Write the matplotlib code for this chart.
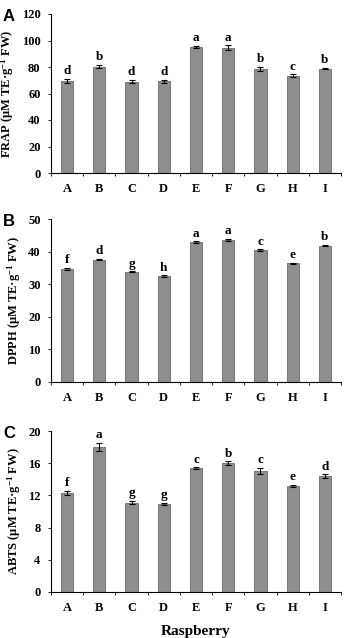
import numpy as np
import matplotlib
matplotlib.use("Agg")
import matplotlib.pyplot as plt
from matplotlib.ticker import FixedLocator

plt.rcParams["mathtext.fontset"] = "custom"
plt.rcParams["mathtext.rm"] = "Liberation Serif:bold"
plt.rcParams["mathtext.bf"] = "Liberation Serif:bold"
plt.rcParams["mathtext.default"] = "bf"

cultivars = ["A", "B", "C", "D", "E", "F", "G", "H", "I"]

frap = [69.5, 80.3, 69.0, 69.2, 95.2, 94.5, 78.5, 73.3, 78.8]
frap_err = [1.6, 1.3, 1.3, 1.1, 0.9, 2.0, 1.8, 1.1, 0.5]
frap_sig = ["d", "b", "d", "d", "a", "a", "b", "c", "b"]

dpph = [34.7, 37.5, 33.8, 32.5, 42.8, 43.6, 40.5, 36.4, 41.8]
dpph_err = [0.3, 0.2, 0.2, 0.2, 0.3, 0.4, 0.2, 0.1, 0.2]
dpph_sig = ["f", "d", "g", "h", "a", "a", "c", "e", "b"]

abts = [12.3, 18.0, 11.1, 10.9, 15.4, 16.0, 15.0, 13.2, 14.4]
abts_err = [0.25, 0.5, 0.2, 0.15, 0.1, 0.25, 0.4, 0.1, 0.2]
abts_sig = ["f", "a", "g", "g", "c", "b", "c", "e", "d"]

panels = [
    ("A", "FRAP", frap, frap_err, frap_sig, 120, 20),
    ("B", "DPPH", dpph, dpph_err, dpph_sig, 50, 10),
    ("C", "ABTS", abts, abts_err, abts_sig, 20, 4),
]

W, H = 344, 638
boxes = [(14, 173), (219, 382), (431, 592)]
left, right = 51, 341

serif = "Liberation Serif"
fig = plt.figure(figsize=(W / 100, H / 100), dpi=100)

for (letter, name, vals, errs, sig, ymax, step), (top, bot) in zip(panels, boxes):
    ax = fig.add_axes([left / W, 1 - bot / H, (right - left) / W, (bot - top) / H])
    x = np.arange(len(cultivars))
    ax.bar(x, vals, width=0.38, color="#8e8e8e", edgecolor="#6a6a6a", linewidth=0.6,
           yerr=errs, error_kw=dict(ecolor="black", elinewidth=0.8, capsize=2, capthick=0.8))
    for xi, v, e, s in zip(x, vals, errs, sig):
        ax.text(xi, v + e + ymax * 0.01, s, ha="center", va="bottom",
                fontsize=9.5, fontweight="bold", family=serif)
    ax.set_xlim(-0.5, 8.5)
    ax.set_ylim(0, ymax)
    ticks = np.arange(0, ymax + 0.1, step)
    ax.set_yticks(ticks)
    ax.set_yticklabels([str(int(t)) for t in ticks], fontsize=9, fontweight="bold", family=serif)
    ax.set_xticks(x)
    ax.set_xticklabels(cultivars, fontsize=9, fontweight="bold", family=serif)
    ax.tick_params(axis="x", which="major", length=0, pad=7)
    ax.xaxis.set_minor_locator(FixedLocator(np.arange(-0.5, 9, 1.0)))
    ax.tick_params(axis="x", which="minor", length=2.5, width=0.6, direction="out")
    ax.tick_params(axis="y", length=2.5, width=0.6, direction="out", pad=5)
    for sp in ["top", "right"]:
        ax.spines[sp].set_visible(False)
    for sp in ["left", "bottom"]:
        ax.spines[sp].set_linewidth(0.8)
    ax.set_ylabel(name + " (μM TE·g$^{-1}$ FW)", fontsize=9,
                  fontweight="bold", family=serif, labelpad=4)
    fig.text(3 / W, 1 - (top - 5) / H, letter, ha="left", va="top",
             fontsize=12, fontweight="bold", family="Liberation Sans")
    if letter == "C":
        ax.set_xlabel("Raspberry", fontsize=11, fontweight="bold", family=serif, labelpad=8)

fig.savefig("out.png", dpi=100)
